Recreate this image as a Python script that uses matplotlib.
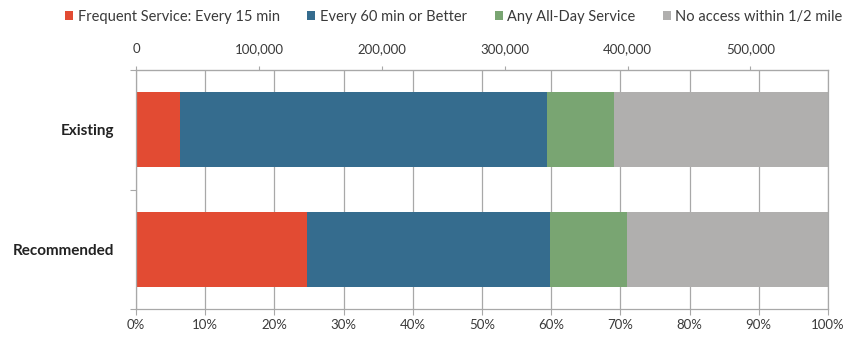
import matplotlib
matplotlib.use("Agg")
import matplotlib.pyplot as plt
from matplotlib.ticker import FuncFormatter, FixedLocator
from matplotlib.patches import Patch

plt.rcParams['font.family'] = ['Lato', 'DejaVu Sans']

scenarios = ["Existing", "Recommended"]
series = ["Frequent Service: Every 15 min", "Every 60 min or Better",
          "Any All-Day Service", "No access within 1/2 mile"]
# share of population (%) per scenario, in series order
existing = [6.4, 53.0, 9.7, 30.9]
recommended = [24.7, 35.2, 11.1, 29.0]
total_population = 563000
population_ticks = [0, 100000, 200000, 300000, 400000, 500000]

colors = ["#E24B33", "#356C8E", "#79A572", "#B0AFAE"]
text_color = "#3a3a3a"
line_color = "#a8a8a8"

fig = plt.figure(figsize=(8.5, 3.4), dpi=100)
ax = fig.add_axes([0.16, 0.091, 0.814, 0.703])

shares = [existing, recommended]
for i in range(len(series)):
    vals = [s[i] for s in shares]
    lefts = [sum(s[:i]) for s in shares]
    ax.barh(range(len(scenarios)), vals, left=lefts, height=0.63,
            color=colors[i], label=series[i], zorder=2)

ax.set_xlim(0, 100)
ax.set_ylim(1.5, -0.5)
ax.set_xticks(range(0, 101, 10))
ax.xaxis.set_major_formatter(FuncFormatter(lambda v, p: f"{v:.0f}%"))
ax.set_yticks(range(len(scenarios)))
ax.set_yticklabels(scenarios, fontweight="bold", fontsize=11, color="#222222")
ax.yaxis.set_minor_locator(FixedLocator([-0.5, 0.5, 1.5]))
ax.tick_params(axis="y", which="major", length=0, pad=16)
ax.tick_params(axis="y", which="minor", length=4, color=line_color, width=0.8)
ax.tick_params(axis="x", length=4, color=line_color, width=0.8,
               labelsize=9.5, labelcolor=text_color, pad=3)
ax.grid(axis="x", color=line_color, linewidth=0.9, zorder=0)
for sp in ax.spines.values():
    sp.set_color(line_color)
    sp.set_linewidth(0.9)

# population scale along the top
top = ax.secondary_xaxis("top", functions=(lambda p: p * total_population / 100,
                                           lambda n: n * 100 / total_population))
top.set_xticks(population_ticks)
top.xaxis.set_major_formatter(FuncFormatter(lambda v, p: f"{v:,.0f}"))
top.tick_params(length=3, color=line_color, width=0.8, labelsize=9.5,
                labelcolor=text_color, pad=8)
top.spines["top"].set_color(line_color)

handles = [Patch(facecolor=c, edgecolor="none") for c in colors]
fig.legend(handles, series, loc="upper center", bbox_to_anchor=(0.534, 1.01),
           ncol=4, frameon=False, fontsize=10.5, handlelength=0.55,
           handleheight=0.55, handletextpad=0.3, columnspacing=1.9,
           labelcolor=text_color)

fig.savefig("out.png", dpi=100, facecolor="white")
